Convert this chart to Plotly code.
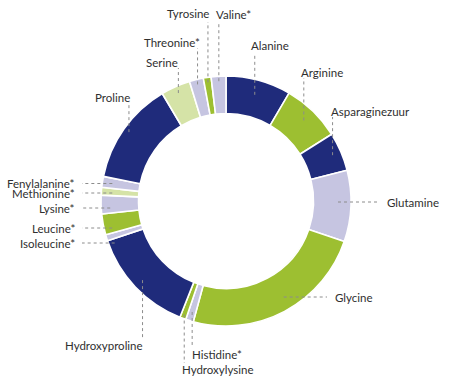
import math
import plotly.graph_objects as go

# ---- data ----
amino_acids = ["Alanine", "Arginine", "Asparaginezuur", "Glutamine", "Glycine",
               "Histidine*", "Hydroxylysine", "Hydroxyproline", "Isoleucine*",
               "Leucine*", "Lysine*", "Methionine*", "Fenylalanine*", "Proline",
               "Serine", "Threonine*", "Tyrosine", "Valine*"]
percentages = [8.4, 7.6, 5.0, 9.2, 23.9, 1.0, 0.8, 13.8, 0.8,
               2.7, 2.4, 1.0, 1.4, 13.3, 3.8, 1.8, 1.0, 1.9]

# ---- styling ----
NAVY, GREEN, LAV, LGREEN = "#1f2b7b", "#9dbf31", "#c6c5e1", "#d5e3a7"
slice_colors = [NAVY, GREEN, NAVY, LAV, GREEN, LAV, GREEN, NAVY, LAV,
                GREEN, LAV, LGREEN, LAV, NAVY, LGREEN, LAV, GREEN, LAV]

W, H = 450, 383
CX, CY, R = 226, 201, 125  # pixel centre / radius of the donut

# label placement: anchor radius, leader direction, leader end, text position
label_layout = {
    "Alanine":        dict(r=110, d="v", end=53,  tx=270, ty=45,  xa="center"),
    "Arginine":       dict(r=112, d="v", end=78,  tx=322, ty=72,  xa="center"),
    "Asparaginezuur": dict(r=116, d="v", end=117, tx=370, ty=111, xa="center"),
    "Glutamine":      dict(r=112, d="h", end=380, tx=385, ty=202, xa="left"),
    "Glycine":        dict(r=112, d="h", end=327, tx=333, ty=297, xa="left"),
    "Histidine*":     dict(r=116, d="v", end=347, tx=190, ty=354, xa="left"),
    "Hydroxylysine":  dict(r=121, d="v", end=363, tx=180, ty=369, xa="left"),
    "Hydroxyproline": dict(r=115, d="v", end=340, tx=145, ty=345, xa="right"),
    "Isoleucine*":    dict(r=119, d="h", end=82,  tx=77,  ty=243, xa="right"),
    "Leucine*":       dict(r=117, d="h", end=82,  tx=77,  ty=228, xa="right"),
    "Lysine*":        dict(r=116, d="h", end=82,  tx=77,  ty=208, xa="right"),
    "Methionine*":    dict(r=114, d="h", end=82,  tx=77,  ty=193, xa="right"),
    "Fenylalanine*":  dict(r=115, d="h", end=82,  tx=77,  ty=183.5, xa="right"),
    "Proline":        dict(r=119, d="v", end=102, tx=112, ty=97,  xa="center"),
    "Serine":         dict(r=118, d="v", end=68,  tx=162, ty=62,  xa="center"),
    "Threonine*":     dict(r=120, d="v", end=48,  tx=172, ty=42,  xa="center"),
    "Tyrosine":       dict(r=120, d="v", end=22,  tx=188, ty=13,  xa="center"),
    "Valine*":        dict(r=120, d="v", end=22,  tx=233, ty=14,  xa="center"),
}

fig = go.Figure()
fig.add_trace(go.Pie(
    labels=amino_acids, values=percentages, sort=False, direction="clockwise",
    rotation=0, hole=0.70, textinfo="none", hoverinfo="label+percent",
    marker=dict(colors=slice_colors, line=dict(color="white", width=1.6)),
    domain=dict(x=[(CX - R) / W, (CX + R) / W],
                y=[(H - CY - R) / H, (H - CY + R) / H]),
    showlegend=False,
))
# invisible cartesian layer for leader lines
fig.add_trace(go.Scatter(x=[None], y=[None], showlegend=False, hoverinfo="skip"))

total = sum(percentages)
cum = 0.0
shapes, annotations = [], []
for name, val in zip(amino_acids, percentages):
    mid = (cum + val / 2) / total * 2 * math.pi
    cum += val
    L = label_layout[name]
    if L["d"] == "v":
        ax = CX + L["r"] * math.sin(mid)
        ay = CY - L["r"] * math.cos(mid)
        x1, y1 = ax, L["end"]
        tx, ty = L["tx"], L["ty"]
    else:
        # horizontal leader: ends on the ring at the slice's side
        ty = L["ty"]
        side = 1 if math.sin(mid) > 0 else -1
        ay = ty
        ax = CX + side * math.sqrt(max(L["r"] ** 2 - (ay - CY) ** 2, 0))
        x1, y1 = L["end"], ay
        tx = L["tx"]
    shapes.append(dict(type="line", xref="x", yref="y", x0=ax, y0=ay, x1=x1, y1=y1,
                       line=dict(color="#8c8c8c", width=1, dash="dot")))
    annotations.append(dict(x=tx, y=ty, xref="x", yref="y", text=name, showarrow=False,
                            xanchor=L["xa"], yanchor="middle",
                            font=dict(family="Lato, sans-serif", size=11.5, color="#2f2f2f")))

fig.update_layout(
    width=W, height=H, margin=dict(l=0, r=0, t=0, b=0),
    paper_bgcolor="white", plot_bgcolor="rgba(0,0,0,0)",
    xaxis=dict(range=[0, W], visible=False, fixedrange=True, domain=[0, 1]),
    yaxis=dict(range=[H, 0], visible=False, fixedrange=True, domain=[0, 1]),
    shapes=shapes, annotations=annotations,
)
fig.write_html("out.html", config={"displayModeBar": False},
               post_script="document.body.style.margin='0';document.body.style.overflow='hidden';")
